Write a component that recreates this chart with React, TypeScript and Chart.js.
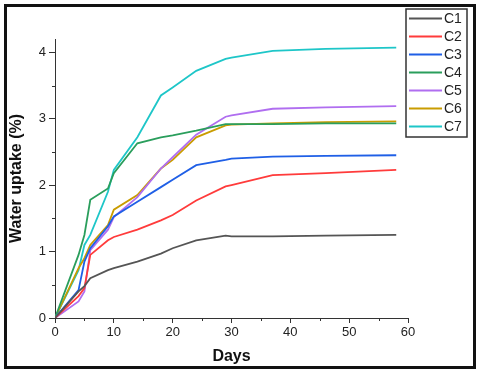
import React, { useEffect, useRef } from "react";
import { Chart, registerables } from "chart.js";

Chart.register(...registerables);

const days = [0, 4, 5, 6, 9, 10, 14, 18, 20, 24, 29, 30, 37, 46, 58];
const seriesNames = ["C1", "C2", "C3", "C4", "C5", "C6", "C7"];
const c1 = [0, 0.4, 0.48, 0.6, 0.72, 0.75, 0.85, 0.97, 1.05, 1.17, 1.24, 1.23, 1.23, 1.24, 1.25];
const c2 = [0, 0.33, 0.45, 0.95, 1.17, 1.22, 1.33, 1.47, 1.55, 1.77, 1.98, 2.0, 2.15, 2.18, 2.23];
const c3 = [0, 0.42, 0.85, 1.05, 1.38, 1.53, 1.75, 1.97, 2.08, 2.3, 2.38, 2.4, 2.43, 2.44, 2.45];
const c4 = [0, 0.95, 1.25, 1.78, 1.95, 2.18, 2.63, 2.72, 2.75, 2.82, 2.92, 2.92, 2.92, 2.93, 2.93];
const c5 = [0, 0.25, 0.4, 1.02, 1.33, 1.52, 1.82, 2.25, 2.42, 2.76, 3.03, 3.05, 3.15, 3.17, 3.19];
const c6 = [0, 0.75, 0.9, 1.1, 1.4, 1.63, 1.85, 2.25, 2.38, 2.72, 2.9, 2.91, 2.93, 2.95, 2.96];
const c7 = [0, 0.72, 1.1, 1.25, 1.9, 2.23, 2.72, 3.35, 3.47, 3.72, 3.9, 3.92, 4.02, 4.05, 4.07];
const seriesValues = [c1, c2, c3, c4, c5, c6, c7];
const colors = ["#555555", "#ff3b3b", "#1f5fe6", "#2a9e5c", "#b06ef0", "#c99c00", "#1ec6c8"];
const yTicks = [0, 1, 2, 3, 4];
const yMinorTicks = [0.5, 1.5, 2.5, 3.5];
const xMinorTicks = [5, 15, 25, 35, 45, 55];

const FONT = "'Liberation Sans', Arial, sans-serif";

const extrasPlugin = {
  id: "extras",
  afterDraw(chart: any) {
    const ctx = chart.ctx;
    const xs = chart.scales.x;
    const ys = chart.scales.y;
    const area = chart.chartArea;
    ctx.save();
    ctx.strokeStyle = "#333";
    ctx.lineWidth = 1;
    ctx.beginPath();
    for (const v of yMinorTicks) {
      const py = Math.round(ys.getPixelForValue(v)) + 0.5;
      ctx.moveTo(area.left - 3, py);
      ctx.lineTo(area.left, py);
    }
    for (const v of xMinorTicks) {
      const px = Math.round(xs.getPixelForValue(v)) + 0.5;
      ctx.moveTo(px, area.bottom);
      ctx.lineTo(px, area.bottom + 3);
    }
    ctx.stroke();

    // legend
    const bx = 406, by = 9, bw = 61, bh = 128;
    ctx.strokeStyle = "#333";
    ctx.lineWidth = 1.5;
    ctx.strokeRect(bx, by, bw, bh);
    ctx.font = `14px ${FONT}`;
    ctx.textBaseline = "middle";
    ctx.textAlign = "left";
    seriesNames.forEach((name, i) => {
      const y = by + 9.5 + i * 18;
      ctx.strokeStyle = colors[i];
      ctx.lineWidth = 2;
      ctx.beginPath();
      ctx.moveTo(bx + 3, y);
      ctx.lineTo(bx + 36, y);
      ctx.stroke();
      ctx.fillStyle = "#222";
      ctx.fillText(name, bx + 38, y + 1);
    });
    ctx.restore();
  },
};

export default function App() {
  const canvasRef = useRef<HTMLCanvasElement | null>(null);

  useEffect(() => {
    document.body.style.margin = "0";
    const canvas = canvasRef.current;
    if (!canvas) return;
    const chart = new Chart(canvas, {
      type: "line",
      data: {
        datasets: seriesNames.map((name, i) => ({
          label: name,
          data: days.map((d, j) => ({ x: d, y: seriesValues[i][j] })),
          borderColor: colors[i],
          backgroundColor: colors[i],
          borderWidth: 1.8,
          pointRadius: 0,
          tension: 0,
          fill: false,
        })),
      },
      options: {
        animation: false,
        responsive: false,
        maintainAspectRatio: false,
        layout: { padding: { left: 0, right: 72, top: 39, bottom: 0 } },
        plugins: {
          legend: { display: false },
          tooltip: { enabled: false },
        },
        scales: {
          x: {
            type: "linear",
            min: 0,
            max: 60,
            ticks: {
              stepSize: 10,
              color: "#222",
              font: { family: FONT, size: 13 },
              padding: 2,
              maxRotation: 0,
            },
            grid: {
              drawOnChartArea: false,
              drawTicks: true,
              tickLength: 5,
              tickColor: "#333",
            },
            border: { display: true, color: "#333", width: 1 },
            title: {
              display: true,
              text: "Days",
              color: "#111",
              font: { family: FONT, size: 16, weight: "bold" },
              padding: { top: 0, bottom: 7 },
            },
            afterFit(scale: any) {
              scale.height = 55;
            },
          },
          y: {
            type: "linear",
            min: 0,
            max: 4.2,
            afterBuildTicks(scale: any) {
              scale.ticks = yTicks.map((v) => ({ value: v }));
            },
            ticks: {
              color: "#222",
              font: { family: FONT, size: 13 },
              padding: 3,
            },
            grid: {
              drawOnChartArea: false,
              drawTicks: true,
              tickLength: 6,
              tickColor: "#333",
            },
            border: { display: true, color: "#333", width: 1 },
            title: {
              display: true,
              text: "Water uptake (%)",
              color: "#111",
              font: { family: FONT, size: 16, weight: "bold" },
              padding: { top: 7, bottom: 0 },
            },
            afterFit(scale: any) {
              scale.width = 55;
            },
          },
        },
      },
      plugins: [extrasPlugin],
    });
    return () => chart.destroy();
  }, []);

  return (
    <div style={{ position: "relative", width: 480, height: 373, background: "#fff" }}>
      <canvas ref={canvasRef} width={480} height={373} style={{ display: "block" }} />
      <div
        style={{
          position: "absolute",
          left: 4,
          top: 4,
          width: 472,
          height: 365,
          boxSizing: "border-box",
          border: "3px solid #111",
          pointerEvents: "none",
        }}
      />
    </div>
  );
}
